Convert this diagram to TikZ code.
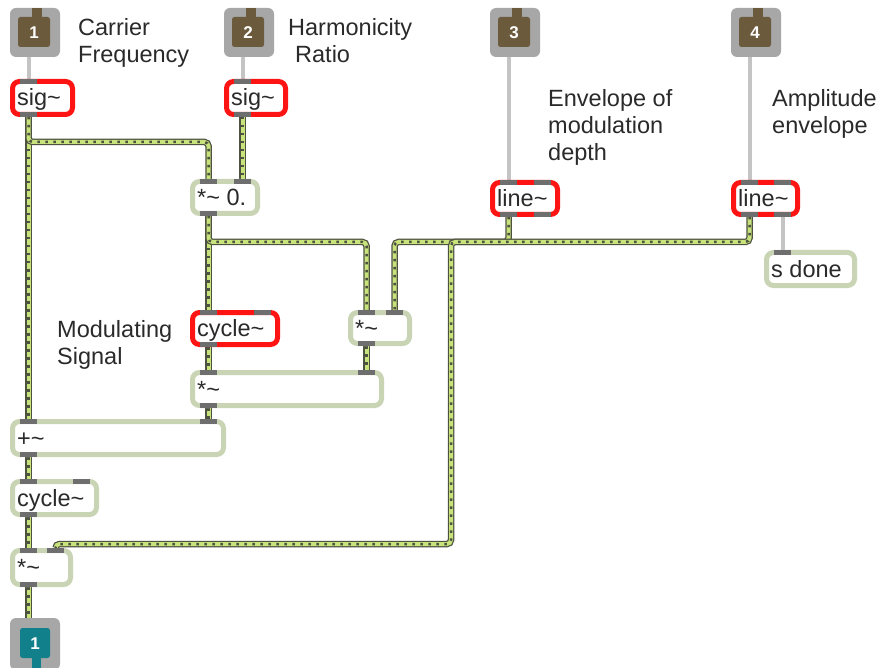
\documentclass[tikz,border=0pt]{standalone}
\usepackage{fontspec}
\setmainfont{Liberation Sans}
\usetikzlibrary{backgrounds}

\definecolor{sage}{HTML}{C9D4B4}
\definecolor{objred}{HTML}{FF1414}
\definecolor{tabgray}{HTML}{6E6E6E}
\definecolor{inletgray}{HTML}{A7A7A7}
\definecolor{inletbrown}{HTML}{6C5A3C}
\definecolor{outletteal}{HTML}{12808A}
\definecolor{ctlcord}{HTML}{C4C4C4}
\definecolor{cordedge}{HTML}{4E5240}
\definecolor{cordfill}{HTML}{C8E27C}
\definecolor{inktext}{HTML}{2A2A2A}

\tikzset{
  objbox/.style={draw=sage, fill=white, line width=5pt, rounded corners=7pt,
                 inner sep=0pt, outer sep=0pt},
  redbox/.style={objbox, draw=objred},
  boxtext/.style={inner sep=0pt, anchor=base west,
                  font=\fontsize{23.5}{28}\selectfont, text=inktext},
  lbl/.style={boxtext},
  porttab/.style={fill=tabgray},
  ctl/.style={draw=ctlcord, line width=4pt},
  sigcord/.style={draw=cordedge, line width=6.5pt, rounded corners=4pt,
                  postaction={draw=cordfill, line width=4pt},
                  postaction={draw=cordedge, line width=2.5pt, dash pattern=on 2.5pt off 5.5pt}},
  iobox/.style={fill=inletgray, rounded corners=6pt, inner sep=0pt, outer sep=0pt,
                minimum width=50pt, minimum height=49pt},
  ionum/.style={text=white, font=\fontsize{17}{20}\selectfont\bfseries, inner sep=0pt}
}

% object box: name, style, x1, y1, x2, y2, text
\newcommand\maxobj[7]{%
  \node[#2, anchor=north west, minimum width={#5-#3-5}, minimum height={#6-#4-5}]
    (#1) at ({#3+2.5},{#4+2.5}) {};
  \node[boxtext] (#1-t) at ({#3+7},{(#4+#6)/2+8}) {#7};
  \coordinate (#1-i1) at ({#3+18.5},#4);
  \coordinate (#1-i2) at ({#5-17.5},#4);
  \coordinate (#1-o1) at ({#3+18.5},#6);
  \coordinate (#1-o2) at ({#5-17.5},#6);
}
\newcommand\intab[1]{\fill[porttab] ([xshift=-8.5pt]#1) rectangle ([xshift=8.5pt,yshift=-5pt]#1);}
\newcommand\outtab[1]{\fill[porttab] ([xshift=-8.5pt,yshift=5pt]#1) rectangle ([xshift=8.5pt]#1);}

% patcher inlet: name, x, y, number
\newcommand\inletobj[4]{%
  \node[iobox, anchor=north west] (#1) at (#2,#3) {};
  \fill[inletbrown, rounded corners=2.5pt] ({#2+8},{#3+9}) rectangle ({#2+40},{#3+39});
  \fill[inletbrown] ({#2+22},{#3}) rectangle ({#2+32},{#3+10});
  \node[ionum] (#1-n) at ({#2+24},{#3+24.5}) {#4};
  \coordinate (#1-o) at ({#2+18.5},{#3+49});
}
% patcher outlet: name, x, y, number
\newcommand\outletobj[4]{%
  \node[iobox, anchor=north west, minimum height=52pt] (#1) at (#2,#3) {};
  \fill[outletteal, rounded corners=2.5pt] ({#2+10},{#3+10}) rectangle ({#2+40},{#3+40});
  \fill[outletteal] ({#2+22},{#3+39}) rectangle ({#2+31},{#3+52});
  \node[ionum] (#1-n) at ({#2+25},{#3+25.5}) {#4};
  \coordinate (#1-i) at ({#2+18.5},#3);
}

\begin{document}
\begin{tikzpicture}[x=1pt, y=-1pt]
\useasboundingbox (0,0) rectangle (880,668);

% inlets and outlet
\inletobj{in1}{10}{8}{1}
\inletobj{in2}{224}{8}{2}
\inletobj{in3}{490}{8}{3}
\inletobj{in4}{731}{8}{4}
\outletobj{out1}{10}{618}{1}

% objects
\maxobj{sig1}{redbox}{10}{79}{75}{117}{sig\char`\~}
\maxobj{sig2}{redbox}{224}{79}{288}{117}{sig\char`\~}
\maxobj{mul0}{objbox}{190}{179}{260}{216}{*\char`\~\ 0.}
\maxobj{line1}{redbox}{490}{180}{560}{217}{line\char`\~}
\maxobj{line2}{redbox}{731}{180}{800}{217}{line\char`\~}
\maxobj{sdone}{objbox}{764}{250}{857}{288}{s done}
\maxobj{cyc1}{redbox}{190}{310}{280}{347}{cycle\char`\~}
\maxobj{mulsm}{objbox}{348}{310}{412}{346}{*\char`\~}
\maxobj{mulwide}{objbox}{190}{370}{384}{408}{*\char`\~}
\maxobj{plus}{objbox}{10}{419}{226}{457}{+\char`\~}
\maxobj{cyc2}{objbox}{10}{479}{99}{517}{cycle\char`\~}
\maxobj{mulbot}{objbox}{10}{548}{73}{587}{*\char`\~}

% inlet / outlet tabs
\intab{sig1-i1} \outtab{sig1-o1}
\intab{sig2-i1} \outtab{sig2-o1}
\intab{mul0-i1} \intab{mul0-i2} \outtab{mul0-o1}
\intab{line1-i1} \intab{line1-i2} \outtab{line1-o1} \outtab{line1-o2}
\intab{line2-i1} \intab{line2-i2} \outtab{line2-o1} \outtab{line2-o2}
\intab{sdone-i1}
\intab{cyc1-i1} \intab{cyc1-i2} \outtab{cyc1-o1}
\intab{mulsm-i1} \intab{mulsm-i2} \outtab{mulsm-o1}
\intab{mulwide-i1} \intab{mulwide-i2} \outtab{mulwide-o1}
\intab{plus-i1} \intab{plus-i2} \outtab{plus-o1}
\intab{cyc2-i1} \intab{cyc2-i2} \outtab{cyc2-o1}
\intab{mulbot-i1} \intab{mulbot-i2} \outtab{mulbot-o1}

% comments
\node[lbl] (lab1a) at (78,36) {Carrier};
\node[lbl] (lab1b) at (78,63) {Frequency};
\node[lbl] (lab2a) at (288,36) {Harmonicity};
\node[lbl] (lab2b) at (295,63) {Ratio};
\node[lbl] (lab3a) at (548,107) {Envelope of};
\node[lbl] (lab3b) at (548,134) {modulation};
\node[lbl] (lab3c) at (548,161) {depth};
\node[lbl] (lab4a) at (772,107) {Amplitude};
\node[lbl] (lab4b) at (772,134) {envelope};
\node[lbl] (lab5a) at (57,337) {Modulating};
\node[lbl] (lab5b) at (57,364) {Signal};

% bend point of the amplitude envelope cord
\coordinate (ampbend) at (451,544);

\begin{scope}[on background layer]
  \fill[white] (0,0) rectangle (880,668);
  % control cords
  \draw[ctl] (in1-o) -- (sig1-i1);
  \draw[ctl] (in2-o) -- (sig2-i1);
  \draw[ctl] (in3-o) -- (line1-i1);
  \draw[ctl] (in4-o) -- (line2-i1);
  \draw[ctl] (line2-o2) -- (sdone-i1);
  % signal cords
  \draw[sigcord] (sig1-o1) -- (plus-i1);
  \draw[sigcord] (sig1-o1) -- ++(0,25) -| (mul0-i1);
  \draw[sigcord] (sig2-o1) -- (mul0-i2);
  \draw[sigcord] (mul0-o1) -- (cyc1-i1);
  \draw[sigcord] (mul0-o1) -- ++(0,26) -| (mulsm-i1);
  \draw[sigcord] (line1-o1) -- ++(0,25) -| (mulsm-i2);
  \draw[sigcord] (line2-o1) -- ++(0,25) -| (ampbend) -| (mulbot-i2);
  \draw[sigcord] (cyc1-o1) -- (mulwide-i1);
  \draw[sigcord] (mulsm-o1) -- (mulwide-i2);
  \draw[sigcord] (mulwide-o1) -- (plus-i2);
  \draw[sigcord] (plus-o1) -- (cyc2-i1);
  \draw[sigcord] (cyc2-o1) -- (mulbot-i1);
  \draw[sigcord] (mulbot-o1) -- (out1-i);
\end{scope}
\end{tikzpicture}
\end{document}
